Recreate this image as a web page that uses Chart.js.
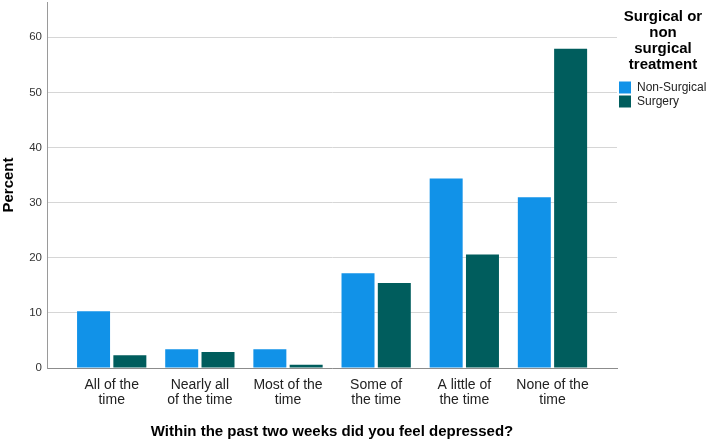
<!DOCTYPE html>
<html>
<head>
<meta charset="utf-8">
<script src="https://cdn.jsdelivr.net/npm/chart.js@4/dist/chart.umd.min.js"></script>
<style>
    html, body { margin: 0; padding: 0; background: #ffffff; }
    #chart-wrap { width: 709px; height: 442px; position: relative; }
</style>
</head>
<body>
<div id="chart-wrap"><canvas id="depressed-chart"></canvas></div>
<script>
// Answers to "Within the past two weeks did you feel depressed?"
const categories = [
    ['All of the', 'time'],
    ['Nearly all', 'of the time'],
    ['Most of the', 'time'],
    ['Some of', 'the time'],
    ['A little of', 'the time'],
    ['None of the', 'time']
];
const nonSurgical = [10.3, 3.4, 3.4, 17.2, 34.4, 31.0];
const surgery = [2.3, 2.9, 0.6, 15.4, 20.6, 57.9];
const yTicks = [0, 10, 20, 30, 40, 50, 60];

const FONT = "'Liberation Sans', Arial, sans-serif";

function toPoints(values) {
    return values.map((v, i) => ({ x: i, y: v }));
}

let depressedChart;
function renderDepressedChart() {
    try {
        const ctx = document.getElementById('depressed-chart').getContext('2d');

        if (depressedChart) {
            depressedChart.destroy();
        }

        depressedChart = new Chart(ctx, {
            type: 'bar',
            data: {
                datasets: [{
                    label: 'Non-Surgical',
                    data: toPoints(nonSurgical),
                    backgroundColor: '#1192e8',
                    borderWidth: 0
                }, {
                    label: 'Surgery',
                    data: toPoints(surgery),
                    backgroundColor: '#005d5d',
                    borderWidth: 0
                }]
            },
            options: {
                responsive: true,
                maintainAspectRatio: false,
                animation: false,
                categoryPercentage: 0.8235,
                barPercentage: 0.909,
                layout: { padding: { top: 2, left: 0, right: 0, bottom: 0 } },
                plugins: {
                    tooltip: { enabled: false },
                    legend: {
                        position: 'right',
                        align: 'start',
                        maxWidth: 92,
                        title: {
                            display: true,
                            text: ['Surgical or', 'non', 'surgical', 'treatment'],
                            color: '#000000',
                            font: { family: FONT, size: 15, weight: 'bold', lineHeight: '16px' },
                            padding: { top: 7.5, bottom: 54 }
                        },
                        labels: {
                            boxWidth: 12,
                            boxHeight: 12,
                            padding: 2,
                            color: '#222222',
                            font: { family: FONT, size: 12 }
                        }
                    }
                },
                scales: {
                    x: {
                        type: 'linear',
                        offset: false,
                        min: -0.734,
                        max: 5.732,
                        afterBuildTicks: scale => {
                            scale.ticks = categories.map((c, i) => ({ value: i }));
                        },
                        afterFit: scale => { scale.height = 74; },
                        grid: { display: false, drawTicks: false },
                        border: { display: true, color: '#8c8c8c', width: 1 },
                        ticks: {
                            autoSkip: false,
                            maxRotation: 0,
                            padding: 9.5,
                            color: '#222222',
                            font: { family: FONT, size: 14, lineHeight: '15px' },
                            callback: value => categories[value]
                        },
                        title: {
                            display: true,
                            text: 'Within the past two weeks did you feel depressed?',
                            color: '#000000',
                            font: { family: FONT, size: 15, weight: 'bold' },
                            padding: { top: 0, bottom: 1 }
                        }
                    },
                    y: {
                        min: 0,
                        max: 66.4,
                        afterBuildTicks: scale => {
                            scale.ticks = yTicks.map(v => ({ value: v }));
                        },
                        afterFit: scale => {
                            scale.width = 47;
                            scale.paddingTop = 0;
                            scale.paddingBottom = 0;
                        },
                        grid: { color: '#d6d6d6', lineWidth: 1, drawTicks: false },
                        border: { display: true, color: '#9a9a9a', width: 1 },
                        ticks: {
                            padding: 5,
                            color: '#333333',
                            font: { family: FONT, size: 11.5 }
                        },
                        title: {
                            display: true,
                            text: 'Percent',
                            color: '#000000',
                            font: { family: FONT, size: 15, weight: 'bold' },
                            padding: 0
                        }
                    }
                }
            }
        });
    } catch (error) {
        console.error('Error rendering chart:', error);
    }
}

renderDepressedChart();
</script>
</body>
</html>
